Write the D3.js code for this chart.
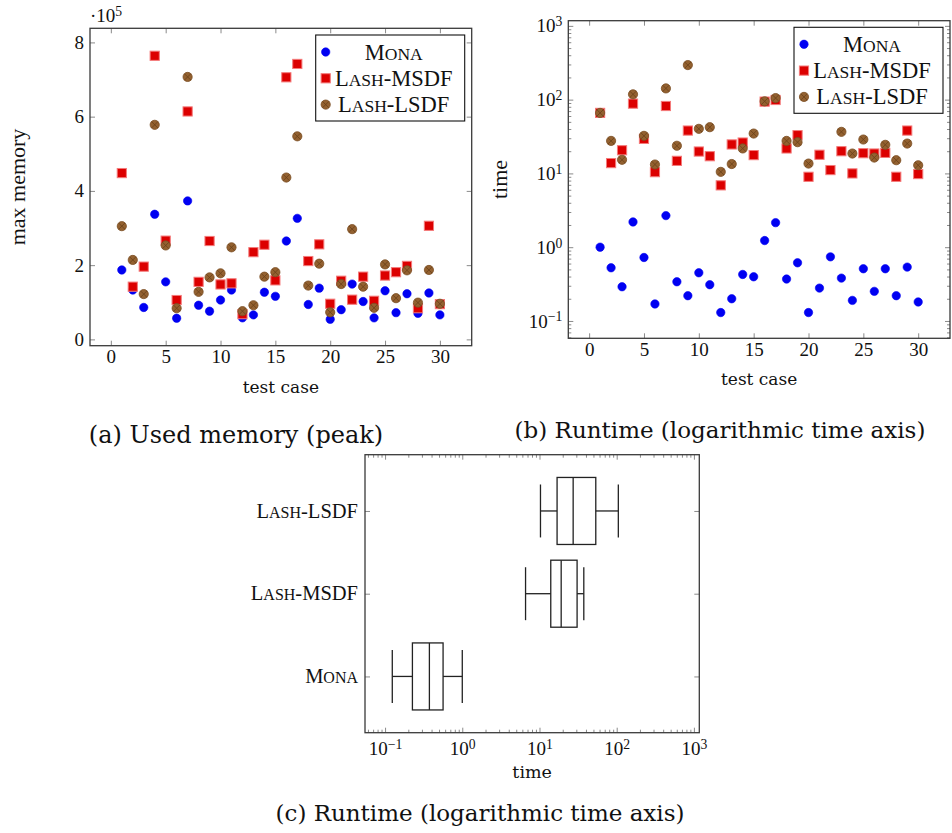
<!DOCTYPE html>
<html>
<head>
<meta charset="utf-8">
<script src="https://cdn.jsdelivr.net/npm/d3@7"></script>
<style>
  body { margin: 0; background: #fff; }
  text { font-family: "Liberation Serif", "DejaVu Serif", serif; fill: #111; }
  .cap { font-family: "DejaVu Serif", serif; }
</style>
</head>
<body>
<svg id="fig" width="952" height="833"></svg>
<script>
// ---------------- data ----------------
var testCase = [1,2,3,4,5,6,7,8,9,10,11,12,13,14,15,16,17,18,19,20,21,22,23,24,25,26,27,28,29,30];

// peak memory, in units of 10^5
var memMona = [1.87,1.33,0.86,3.37,1.55,0.57,3.73,0.92,0.76,1.06,1.33,0.58,0.66,1.27,1.16,2.65,3.26,0.94,1.38,0.54,0.80,1.49,1.02,0.58,1.31,0.72,1.23,0.70,1.25,0.66];
var memMSDF = [4.48,1.42,1.96,7.64,2.66,1.06,6.14,1.55,2.65,1.48,1.51,0.68,2.35,2.55,1.59,7.06,7.42,2.11,2.56,0.96,1.58,1.07,1.69,1.04,1.72,1.81,1.98,0.84,3.06,0.95];
var memLSDF = [3.05,2.14,1.22,5.78,2.53,0.84,7.07,1.28,1.67,1.78,2.48,0.76,0.92,1.69,1.81,4.36,5.47,1.45,2.04,0.73,1.49,2.97,1.42,0.85,2.02,1.11,1.86,0.99,1.87,0.96];

// runtime
var timeMona = [1.0,0.526,0.291,2.20,0.725,0.170,2.68,0.340,0.220,0.450,0.310,0.130,0.200,0.427,0.397,1.23,2.15,0.370,0.614,0.130,0.279,0.740,0.381,0.190,0.510,0.252,0.510,0.220,0.537,0.181];
var timeMSDF = [66.1,13.8,20.6,88.3,29.4,10.4,82.0,14.8,38.1,19.8,17.1,6.89,24.7,26.2,17.7,94.0,98.9,21.8,33.0,9.0,17.9,11.1,20.0,10.0,18.8,18.6,19.0,9.0,38.1,9.8];
var timeLSDF = [66.1,27.6,15.3,118,32.3,13.2,142,23.7,294,40.2,42.3,10.5,13.4,21.8,34.7,94.9,105,27.6,26.5,13.6,null,null,36.6,18.6,28.8,16.4,24.4,15.1,25.4,12.9];

// box plot of runtimes
var boxLabels = ["Mona", "Lash-MSDF", "Lash-LSDF"];
var boxLowWhisker = [0.124, 6.6, 10.3];
var boxQ1 = [0.226, 14.0, 16.9];
var boxMedian = [0.375, 19.1, 27.3];
var boxQ3 = [0.564, 30.7, 53.6];
var boxHighWhisker = [1.0, 37.5, 105];

var seriesNames = ["Mona", "Lash-MSDF", "Lash-LSDF"];
var xTicks = [0,5,10,15,20,25,30];
var memTicks = [0,2,4,6,8];
var logTicks = [0.1,1,10,100,1000];

// ---------------- helpers ----------------
var svg = d3.select("#fig");
var frameColor = "#3a3a3a", tickColor = "#8a8a8a";

// small caps the way latex \textsc does it
function smallCaps(sel, str, size) {
  var parts = str.match(/[a-z]+|[^a-z]+/g);
  parts.forEach(function(p) {
    if (/[a-z]/.test(p)) sel.append("tspan").attr("font-size", size * 0.78).text(p.toUpperCase());
    else sel.append("tspan").attr("font-size", size).text(p);
  });
}

function powLabel(sel, v) {
  var e = Math.round(Math.log10(v));
  sel.text("");
  sel.append("tspan").text("10");
  sel.append("tspan").attr("dy", "-0.45em").attr("font-size", "0.72em")
     .text(e < 0 ? "\u2212" + (-e) : e);
}

function minorLogTicks(dom) {
  var out = [];
  for (var e = -2; e <= 3; e++)
    for (var k = 2; k <= 9; k++) {
      var v = k * Math.pow(10, e);
      if (v > dom[0] && v < dom[1]) out.push(v);
    }
  return out;
}

function styleAxis(g) {
  g.select(".domain").remove();
  g.selectAll(".tick line").attr("stroke", tickColor).attr("stroke-width", 1);
  g.selectAll(".tick text").attr("fill", "#111").attr("font-family", "Liberation Serif").attr("font-size", 19);
}

function drawMarker(g, kind, cx, cy) {
  if (kind === 0) {
    g.append("circle").attr("cx", cx).attr("cy", cy).attr("r", 4.2)
     .attr("fill", "#0000f2").attr("stroke", "#0000f2").attr("stroke-width", 0.6);
  } else if (kind === 1) {
    g.append("rect").attr("x", cx - 4.6).attr("y", cy - 4.6).attr("width", 9.2).attr("height", 9.2)
     .attr("fill", "#dc0000").attr("stroke", "#f47a7a").attr("stroke-width", 1);
  } else {
    var r = 4.6, d = r * 0.707;
    g.append("circle").attr("cx", cx).attr("cy", cy).attr("r", r)
     .attr("fill", "#936130").attr("stroke", "#7a4c22").attr("stroke-width", 0.8);
    g.append("path").attr("d", "M" + (cx - d) + "," + (cy - d) + "L" + (cx + d) + "," + (cy + d) +
                              "M" + (cx - d) + "," + (cy + d) + "L" + (cx + d) + "," + (cy - d))
     .attr("stroke", "#6a4018").attr("stroke-width", 0.8);
  }
}

function drawLegend(x0, y0) {
  var g = svg.append("g").attr("transform", "translate(" + x0 + "," + y0 + ")");
  g.append("rect").attr("width", 149).attr("height", 86)
   .attr("fill", "#fff").attr("stroke", "#111").attr("stroke-width", 1.1);
  seriesNames.forEach(function(name, i) {
    var cy = 17 + i * 26.3;
    drawMarker(g, i, 10, cy);
    var t = g.append("text").attr("x", 78).attr("y", cy + 7.5).attr("text-anchor", "middle");
    smallCaps(t, name, 22.5);
  });
}

function scatterPanel(opt) {
  var L = opt.left, R = opt.right, T = opt.top, B = opt.bottom;
  var x = d3.scaleLinear().domain([-1.9, 32.9]).range([L, R]);
  var y = opt.y;
  var g = svg.append("g");

  g.append("g").attr("transform", "translate(0," + B + ")")
   .call(d3.axisBottom(x).tickValues(xTicks).tickSize(-5).tickPadding(4)).call(styleAxis);
  g.append("g").attr("transform", "translate(0," + T + ")")
   .call(d3.axisTop(x).tickValues(xTicks).tickSize(-5).tickFormat("")).call(styleAxis);

  if (opt.log) {
    var minors = minorLogTicks(y.domain());
    g.append("g").attr("transform", "translate(" + L + ",0)")
     .call(d3.axisLeft(y).tickValues(minors).tickSize(-3).tickFormat("")).call(styleAxis);
    g.append("g").attr("transform", "translate(" + R + ",0)")
     .call(d3.axisRight(y).tickValues(minors).tickSize(-3).tickFormat("")).call(styleAxis);
  }
  var ya = g.append("g").attr("transform", "translate(" + L + ",0)")
   .call(d3.axisLeft(y).tickValues(opt.yTicks).tickSize(-5).tickPadding(6)).call(styleAxis);
  if (opt.log) ya.selectAll(".tick text").each(function(d) { powLabel(d3.select(this), d); });
  g.append("g").attr("transform", "translate(" + R + ",0)")
   .call(d3.axisRight(y).tickValues(opt.yTicks).tickSize(-5).tickFormat("")).call(styleAxis);

  g.append("rect").attr("x", L).attr("y", T).attr("width", R - L).attr("height", B - T)
   .attr("fill", "none").attr("stroke", frameColor).attr("stroke-width", 1.3);

  var marks = g.append("g");
  opt.series.forEach(function(vals, k) {
    vals.forEach(function(v, i) {
      if (v == null) return;
      drawMarker(marks, k, x(testCase[i]), y(v));
    });
  });

  g.append("text").attr("class", "cap").attr("x", (L + R) / 2).attr("y", B + 47).attr("text-anchor", "middle")
   .attr("font-size", 17).text("test case");
  g.append("text").attr("transform", "translate(" + opt.ylabelX + "," + (T + B) / 2 + ") rotate(-90)")
   .attr("text-anchor", "middle").attr("font-size", 22).text(opt.ylabel);
  return {x: x, y: y};
}

// ---------------- (a) memory ----------------
scatterPanel({
  left: 90, right: 471.7, top: 28.3, bottom: 345.7,
  y: d3.scaleLinear().domain([-0.17, 8.38]).range([345.7, 28.3]),
  yTicks: memTicks, log: false,
  series: [memMona, memMSDF, memLSDF],
  ylabel: "max memory", ylabelX: 25
});
var mult = svg.append("text").attr("x", 90).attr("y", 22).attr("font-size", 19);
mult.append("tspan").text("\u00b710");
mult.append("tspan").attr("dy", "-0.45em").attr("font-size", "0.72em").text("5");
drawLegend(315.7, 35);

// ---------------- (b) runtime ----------------
scatterPanel({
  left: 568.3, right: 950, top: 20.7, bottom: 338.3,
  y: d3.scaleLog().domain([Math.pow(10, -1.235), Math.pow(10, 3.07)]).range([338.3, 20.7]),
  yTicks: logTicks, log: true,
  series: [timeMona, timeMSDF, timeLSDF],
  ylabel: "time", ylabelX: 507
});
drawLegend(794, 27.3);

// ---------------- (c) box plot ----------------
(function() {
  var L = 365, R = 699.3, T = 454.7, B = 732.7;
  var x = d3.scaleLog().domain([Math.pow(10, -1.26), Math.pow(10, 3.07)]).range([L, R]);
  var y = d3.scaleLinear().domain([0.32, 3.68]).range([B, T]);
  var g = svg.append("g");
  var minors = minorLogTicks(x.domain());

  g.append("g").attr("transform", "translate(0," + B + ")")
   .call(d3.axisBottom(x).tickValues(minors).tickSize(-3).tickFormat("")).call(styleAxis);
  g.append("g").attr("transform", "translate(0," + T + ")")
   .call(d3.axisTop(x).tickValues(minors).tickSize(-3).tickFormat("")).call(styleAxis);
  var xa = g.append("g").attr("transform", "translate(0," + B + ")")
   .call(d3.axisBottom(x).tickValues(logTicks).tickSize(-5).tickPadding(9)).call(styleAxis);
  xa.selectAll(".tick text").each(function(d) { powLabel(d3.select(this), d); });
  g.append("g").attr("transform", "translate(0," + T + ")")
   .call(d3.axisTop(x).tickValues(logTicks).tickSize(-5).tickFormat("")).call(styleAxis);

  var pos = [1, 2, 3];
  var ya = g.append("g").attr("transform", "translate(" + L + ",0)")
   .call(d3.axisLeft(y).tickValues(pos).tickSize(-5).tickPadding(7)).call(styleAxis);
  ya.selectAll(".tick text").each(function(d) {
    var t = d3.select(this).text("");
    smallCaps(t, boxLabels[d - 1], 20.5);
  });
  g.append("g").attr("transform", "translate(" + R + ",0)")
   .call(d3.axisRight(y).tickValues(pos).tickSize(-5).tickFormat("")).call(styleAxis);

  g.append("rect").attr("x", L).attr("y", T).attr("width", R - L).attr("height", B - T)
   .attr("fill", "none").attr("stroke", frameColor).attr("stroke-width", 1.3);

  var boxH = 0.405, whH = 0.32, st = "#222";
  pos.forEach(function(p, i) {
    var cy = y(p);
    var bt = y(p + boxH), bb = y(p - boxH), wt = y(p + whH), wb = y(p - whH);
    var bg = g.append("g").attr("stroke", st).attr("stroke-width", 1.3).attr("fill", "none");
    bg.append("line").attr("x1", x(boxLowWhisker[i])).attr("x2", x(boxQ1[i])).attr("y1", cy).attr("y2", cy);
    bg.append("line").attr("x1", x(boxQ3[i])).attr("x2", x(boxHighWhisker[i])).attr("y1", cy).attr("y2", cy);
    bg.append("line").attr("x1", x(boxLowWhisker[i])).attr("x2", x(boxLowWhisker[i])).attr("y1", wt).attr("y2", wb);
    bg.append("line").attr("x1", x(boxHighWhisker[i])).attr("x2", x(boxHighWhisker[i])).attr("y1", wt).attr("y2", wb);
    bg.append("rect").attr("x", x(boxQ1[i])).attr("y", bt)
      .attr("width", x(boxQ3[i]) - x(boxQ1[i])).attr("height", bb - bt);
    bg.append("line").attr("x1", x(boxMedian[i])).attr("x2", x(boxMedian[i])).attr("y1", bt).attr("y2", bb);
  });

  g.append("text").attr("class", "cap").attr("x", (L + R) / 2).attr("y", 778).attr("text-anchor", "middle")
   .attr("font-size", 17.5).text("time");
})();

// ---------------- captions ----------------
svg.append("text").attr("class", "cap").attr("x", 236).attr("y", 443).attr("text-anchor", "middle")
   .attr("font-size", 24).text("(a) Used memory (peak)");
svg.append("text").attr("class", "cap").attr("x", 720).attr("y", 438).attr("text-anchor", "middle")
   .attr("font-size", 23).text("(b) Runtime (logarithmic time axis)");
svg.append("text").attr("class", "cap").attr("x", 480).attr("y", 821).attr("text-anchor", "middle")
   .attr("font-size", 23).text("(c) Runtime (logarithmic time axis)");
</script>
</body>
</html>
